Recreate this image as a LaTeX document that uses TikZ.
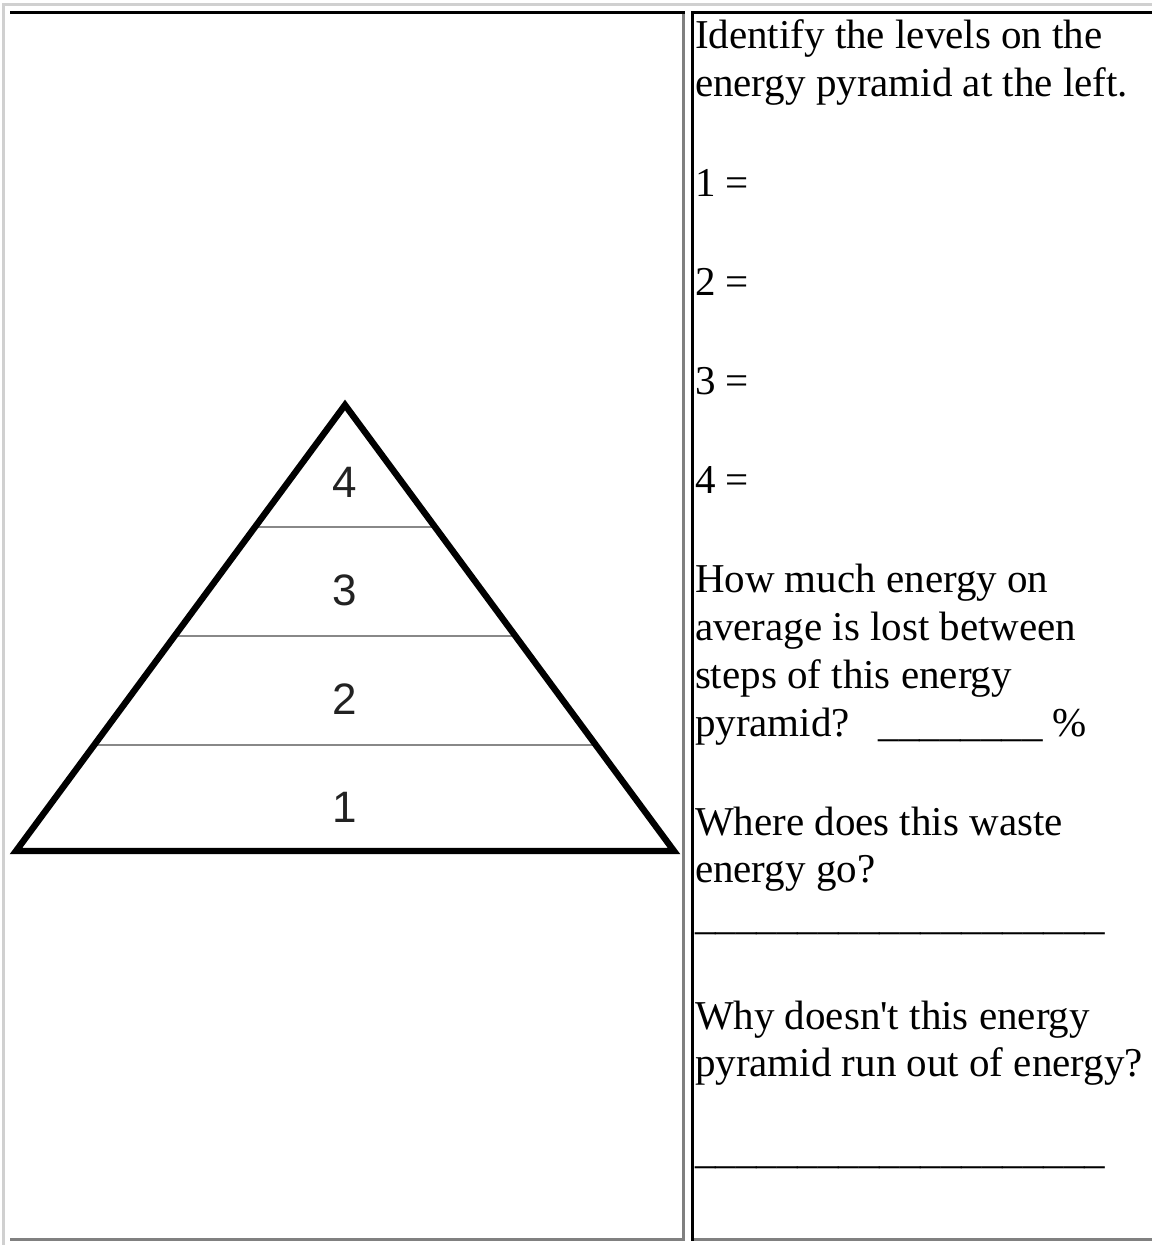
\documentclass[tikz,border=0pt]{standalone}
\usepackage{fontspec}
\setmainfont{Liberation Serif}[Ligatures=TeXOff]
\newfontfamily\pyrfont{Liberation Sans}
\definecolor{outergray}{HTML}{D0D0D0}
\definecolor{cellgray}{HTML}{808080}
\definecolor{levelgray}{HTML}{888888}
\definecolor{digitgray}{HTML}{222222}
\begin{document}
\begin{tikzpicture}[x=0.75pt,y=-0.75pt,
  qtext/.style={anchor=base west,inner sep=0pt,outer sep=0pt,font=\fontsize{30.75}{36}\selectfont},
  lvl/.style={inner sep=0pt,outer sep=0pt,text=digitgray,font=\pyrfont\fontsize{33}{36}\selectfont},
  levelline/.style={draw=levelgray,line width=1.8pt},
  pyredge/.style={draw=black,line width=4.8pt,line join=miter}]
\useasboundingbox (0,0) rectangle (1152,1245);
\fill[white] (0,0) rectangle (1152,1245);
% outer table border (light)
\fill[outergray] (2,3) rectangle (1152,6);
\fill[outergray] (2,3) rectangle (5,1245);
% left cell
\fill[black] (10,11) rectangle (685,14);
\fill[cellgray] (682,14) rectangle (685,1241);
\fill[cellgray] (10,1238) rectangle (685,1241);
% right cell
\fill[black] (691,11) rectangle (1152,14);
\fill[black] (691,11) rectangle (694,1241);
\fill[cellgray] (694,1238) rectangle (1152,1241);
% pyramid
\coordinate (apex) at (345,405);
\coordinate (bl) at (16,851);
\coordinate (br) at (674,851);
\coordinate (l4a) at (253.6,527); \coordinate (l4b) at (436.4,527);
\coordinate (l3a) at (173.2,636); \coordinate (l3b) at (516.8,636);
\coordinate (l2a) at (92.9,745);  \coordinate (l2b) at (597.1,745);
\draw[levelline] (l4a) -- (l4b);
\draw[levelline] (l3a) -- (l3b);
\draw[levelline,line width=2.2pt] (l2a) -- (l2b);
\draw[pyredge] (apex) -- (br) -- (bl) -- cycle;
\node[lvl] (n4) at (345,482) {4};
\node[lvl] (n3) at (345,590) {3};
\node[lvl] (n2) at (345,699) {2};
\node[lvl] (n1) at (345,807) {1};
% questions
\node[qtext] (t1) at (695,49) {Identify the levels on the};
\node[qtext] (t2) at (695,97) {energy pyramid at the left.};
\node[qtext] (a1) at (695,196) {1 =};
\node[qtext] (a2) at (695,295) {2 =};
\node[qtext] (a3) at (695,394) {3 =};
\node[qtext] (a4) at (695,493) {4 =};
\node[qtext] (h1) at (695,592) {How much energy on};
\node[qtext] (h2) at (695,640) {average is lost between};
\node[qtext] (h3) at (695,688) {steps of this energy};
\node[qtext] (h4) at (695,736) {pyramid?\hspace{0.7em}\_\_\_\_\_\_\_\_ \%};
\node[qtext] (w1) at (695,835) {Where does this waste};
\node[qtext] (w2) at (695,882) {energy go?};
\node[qtext] (w3) at (695,929) {\_\_\_\_\_\_\_\_\_\_\_\_\_\_\_\_\_\_\_\_};
\node[qtext] (y1) at (695,1029) {Why doesn't this energy};
\node[qtext] (y2) at (695,1076) {pyramid run out of energy?};
\node[qtext] (y3) at (695,1163) {\_\_\_\_\_\_\_\_\_\_\_\_\_\_\_\_\_\_\_\_};
\end{tikzpicture}
\end{document}
